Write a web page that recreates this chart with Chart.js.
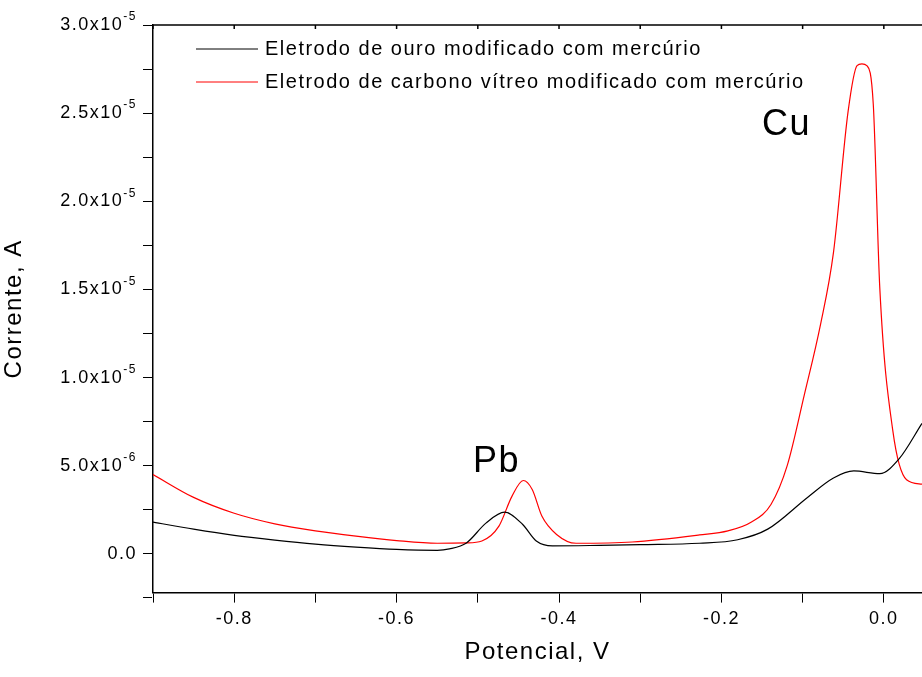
<!DOCTYPE html>
<html>
<head>
<meta charset="utf-8">
<script src="https://cdn.jsdelivr.net/npm/chart.js@4.4.0/dist/chart.umd.min.js"></script>
<style>
  body { margin: 0; background: #fff; }
  #wrap { width: 922px; height: 677px; }
</style>
</head>
<body>
<div id="wrap"><canvas id="myChart"></canvas></div>
<script>
const potencialOuro = [-0.9, -0.85, -0.8, -0.75, -0.7, -0.65, -0.6, -0.55, -0.535, -0.514, -0.49, -0.467, -0.445, -0.428, -0.408, -0.35, -0.3, -0.227, -0.18, -0.143, -0.094, -0.062, -0.037, -0.005, 0.019, 0.047];
const correnteOuro = [1.8e-6, 1.4e-6, 1.05e-6, 0.78e-6, 0.55e-6, 0.38e-6, 0.25e-6, 0.2e-6, 0.28e-6, 0.62e-6, 1.74e-6, 2.36e-6, 1.68e-6, 0.73e-6, 0.45e-6, 0.48e-6, 0.52e-6, 0.6e-6, 0.8e-6, 1.4e-6, 3.2e-6, 4.3e-6, 4.7e-6, 4.55e-6, 5.4e-6, 7.4e-6];

const potencialCarbono = [-0.9, -0.85, -0.8, -0.75, -0.7, -0.65, -0.6, -0.55, -0.514, -0.495, -0.474, -0.458, -0.444, -0.433, -0.421, -0.403, -0.379, -0.31, -0.227, -0.192, -0.163, -0.139, -0.119, -0.098, -0.078, -0.062, -0.044, -0.033, -0.027, -0.021, -0.013, -0.005, 0.011, 0.028, 0.047];
const correnteCarbono = [4.5e-6, 3.2e-6, 2.3e-6, 1.7e-6, 1.3e-6, 1.0e-6, 0.75e-6, 0.6e-6, 0.62e-6, 0.73e-6, 1.57e-6, 3.26e-6, 4.16e-6, 3.65e-6, 2.13e-6, 1.1e-6, 0.6e-6, 0.67e-6, 1.07e-6, 1.3e-6, 1.8e-6, 2.8e-6, 5.0e-6, 9.0e-6, 13.0e-6, 17.1e-6, 25.1e-6, 27.7e-6, 27.8e-6, 27.7e-6, 25.5e-6, 15.1e-6, 7.0e-6, 4.2e-6, 3.95e-6];

const rotulosSeries = ['Eletrodo de ouro modificado com mercúrio', 'Eletrodo de carbono vítreo modificado com mercúrio'];
const ticksX = [-0.9, -0.8, -0.7, -0.6, -0.5, -0.4, -0.3, -0.2, -0.1, 0.0];
const rotulosX = ['', '-0.8', '', '-0.6', '', '-0.4', '', '-0.2', '', '0.0'];
const ticksY = [-2.5e-6, 0, 2.5e-6, 5e-6, 7.5e-6, 1e-5, 1.25e-5, 1.5e-5, 1.75e-5, 2e-5, 2.25e-5, 2.5e-5, 2.75e-5, 3e-5];
// [mantissa, expoente]
const rotulosY = [null, ['0.0', ''], null, ['5.0x10', '-6'], null, ['1.0x10', '-5'], null, ['1.5x10', '-5'], null, ['2.0x10', '-5'], null, ['2.5x10', '-5'], null, ['3.0x10', '-5']];
const picos = [{ texto: 'Pb', x: -0.477, y: 5.2e-6 }, { texto: 'Cu', x: -0.12, y: 2.43e-5 }];

const fonte = 'Arial, "Liberation Sans", sans-serif';
const toPoints = (xs, ys) => xs.map((x, i) => ({ x, y: ys[i] }));

const espacamento = {
  id: 'espacamento',
  beforeDraw(chart) { chart.ctx.letterSpacing = '1.5px'; }
};

const anotacoes = {
  id: 'anotacoes',
  afterDraw(chart) {
    const { ctx, scales, chartArea } = chart;
    ctx.save();
    ctx.letterSpacing = '1.5px';
    ctx.fillStyle = '#000';
    ctx.strokeStyle = '#000';
    // moldura superior com marcas
    ctx.lineWidth = 1.5;
    ctx.beginPath();
    ctx.moveTo(chartArea.left, chartArea.top);
    ctx.lineTo(chartArea.right, chartArea.top);
    ticksX.forEach(v => {
      const px = scales.x.getPixelForValue(v);
      ctx.moveTo(px, chartArea.top);
      ctx.lineTo(px, chartArea.top + 4);
    });
    ctx.stroke();
    // rótulos do eixo y com expoente
    ctx.textBaseline = 'middle';
    ticksY.forEach((v, i) => {
      const r = rotulosY[i];
      if (!r) return;
      const py = scales.y.getPixelForValue(v);
      ctx.font = '12px ' + fonte;
      const we = ctx.measureText(r[1]).width;
      ctx.textAlign = 'right';
      ctx.fillText(r[1], 137, py - 8);
      ctx.font = '18px ' + fonte;
      ctx.fillText(r[0], 137 - we, py);
    });
    ctx.textAlign = 'center';
    ctx.font = '36px ' + fonte;
    picos.forEach(p => ctx.fillText(p.texto, scales.x.getPixelForValue(p.x), scales.y.getPixelForValue(p.y)));
    // legenda
    ctx.font = '20px ' + fonte;
    ctx.textAlign = 'left';
    const cores = ['#000', '#ff0000'];
    rotulosSeries.forEach((r, i) => {
      const yy = 49 + i * 33;
      ctx.strokeStyle = cores[i];
      ctx.lineWidth = 1;
      ctx.beginPath();
      ctx.moveTo(196, yy);
      ctx.lineTo(258, yy);
      ctx.stroke();
      ctx.fillText(r, 265, yy);
    });
    ctx.restore();
  }
};

const ctx = document.getElementById('myChart').getContext('2d');
new Chart(ctx, {
  type: 'line',
  data: {
    datasets: [
      { label: rotulosSeries[0], data: toPoints(potencialOuro, correnteOuro), borderColor: '#000', borderWidth: 1.2, pointRadius: 0, cubicInterpolationMode: 'monotone' },
      { label: rotulosSeries[1], data: toPoints(potencialCarbono, correnteCarbono), borderColor: '#ff0000', borderWidth: 1.2, pointRadius: 0, cubicInterpolationMode: 'monotone' }
    ]
  },
  options: {
    responsive: true,
    maintainAspectRatio: false,
    animation: false,
    layout: { padding: { top: 25, right: 0, left: 0, bottom: 4 } },
    plugins: { legend: { display: false }, tooltip: { enabled: false } },
    scales: {
      x: {
        type: 'linear', min: -0.9, max: 0.047,
        afterBuildTicks: s => { s.ticks = ticksX.map(v => ({ value: v })); },
        ticks: { autoSkip: false, maxRotation: 0, color: '#000', font: { size: 18, family: fonte }, callback: (v, i) => rotulosX[i], padding: 6 },
        grid: { drawOnChartArea: false, color: '#000', tickLength: 10, tickColor: '#000' },
        border: { color: '#000', width: 1.5 },
        title: { display: true, text: 'Potencial, V', color: '#000', font: { size: 24, family: fonte }, padding: { top: 2, bottom: 6 } }
      },
      y: {
        min: -2.2e-6, max: 3e-5,
        afterBuildTicks: s => { s.ticks = ticksY.map(v => ({ value: v })); },
        afterFit: s => { s.width = 153; },
        ticks: { autoSkip: false, color: '#000', font: { size: 17, family: fonte }, callback: () => '', padding: 6 },
        grid: { drawOnChartArea: false, color: '#000', tickLength: 10, tickColor: '#000' },
        border: { color: '#000', width: 1.5 },
        title: { display: true, text: 'Corrente, A', color: '#000', font: { size: 24, family: fonte }, padding: { top: 0, bottom: 4 } }
      }
    }
  },
  plugins: [espacamento, anotacoes]
});
</script>
</body>
</html>
